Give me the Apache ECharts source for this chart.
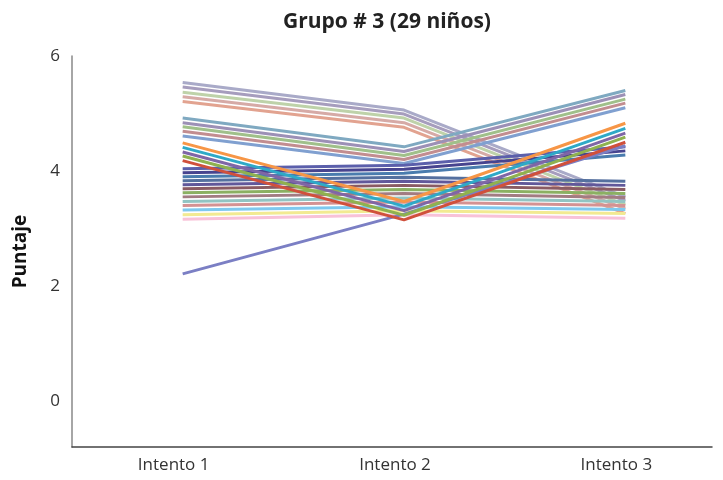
<!DOCTYPE html>
<html>
<head>
<meta charset="utf-8">
<script src="https://cdn.jsdelivr.net/npm/echarts@6/dist/echarts.min.js"></script>
<style>
html,body{margin:0;padding:0;background:#fff;}
#chart{width:723px;height:480px;}
</style>
</head>
<body>
<div id="chart"></div>
<script>
// ---- data ----
const categories = ['Intento 1', 'Intento 2', 'Intento 3'];
const yTickValues = [0, 2, 4, 6];

// top group (fall at Intento 3)
const nino01 = [5.54, 5.06, 3.55];
const nino02 = [5.46, 4.99, 3.48];
const nino03 = [5.37, 4.92, 3.41];
const nino04 = [5.29, 4.84, 3.34];
const nino05 = [5.21, 4.76, 3.26];
// second group (dip at Intento 2, rise at Intento 3)
const nino06 = [4.92, 4.42, 5.40];
const nino07 = [4.84, 4.34, 5.33];
const nino08 = [4.77, 4.27, 5.25];
const nino09 = [4.69, 4.20, 5.18];
const nino10 = [4.61, 4.13, 5.10];
// third group (deep dip at Intento 2)
const nino11 = [4.49, 3.47, 4.83];
const nino12 = [4.41, 3.39, 4.74];
const nino13 = [4.33, 3.31, 4.66];
const nino14 = [4.26, 3.23, 4.59];
const nino15 = [4.18, 3.15, 4.50];
// lower group
const nino16 = [4.04, 4.10, 4.42];
const nino17 = [3.97, 4.03, 4.35];
const nino18 = [3.90, 3.96, 4.28];
const nino19 = [3.83, 3.89, 3.82];
const nino20 = [3.76, 3.82, 3.75];
const nino21 = [3.69, 3.75, 3.68];
const nino22 = [3.62, 3.68, 3.61];
const nino23 = [3.55, 3.61, 3.54];
const nino24 = [3.47, 3.53, 3.47];
const nino25 = [3.40, 3.46, 3.40];
const nino26 = [3.32, 3.38, 3.33];
const nino27 = [3.24, 3.31, 3.26];
const nino28 = [3.16, 3.24, 3.18];
// lowest start
const nino29 = [2.21, 3.25, 4.44];

const allSeries = [nino01, nino02, nino03, nino04, nino05, nino06, nino07, nino08, nino09, nino10,
  nino16, nino17, nino18, nino19, nino20, nino21, nino22, nino23, nino24, nino25, nino26, nino27, nino28,
  nino29, nino11, nino12, nino13, nino14, nino15];

// ---- styles ----
const colors = ['#a9aac8', '#a69dbd', '#bed2a9', '#d6aaa6', '#e2a390',
  '#7fa9c1', '#9c90b6', '#a0c08a', '#c28d90', '#80a0d0',
  '#5b5fab', '#47448f', '#4a7cae', '#55709f', '#61589a', '#8a5b63', '#8bb062', '#a27c82', '#92c4c3', '#d49293', '#7ec8ef', '#f2ea92', '#f8c2d8',
  '#7b7fc4', '#f79646', '#2ea9c7', '#7f66a6', '#8fb14f', '#d0503c'];

const series = allSeries.map((d, i) => ({
  type: 'line',
  data: d,
  xAxisIndex: 0,
  yAxisIndex: 0,
  symbol: 'none',
  silent: true,
  lineStyle: { width: 3, color: colors[i] },
  itemStyle: { color: colors[i] },
  animation: false
}));

const chart = echarts.init(document.getElementById('chart'), null, { renderer: 'canvas' });
chart.setOption({
  animation: false,
  backgroundColor: '#ffffff',
  title: {
    text: 'Grupo # 3 (29 niños)',
    left: 382,
    top: 7,
    textAlign: 'center',
    textStyle: { fontFamily: 'Open Sans', fontWeight: 'bold', fontSize: 21, color: '#222' }
  },
  grid: [
    { left: 72, width: 664, top: 56, bottom: 33, containLabel: false, outerBoundsMode: 'none' },
    { left: 72, width: 640, top: 56, bottom: 33, containLabel: false, outerBoundsMode: 'none' }
  ],
  xAxis: [
    {
      type: 'category',
      gridIndex: 0,
      data: categories,
      boundaryGap: true,
      axisLine: { show: false },
      axisTick: { show: false },
      splitLine: { show: false },
      axisLabel: { fontFamily: 'Open Sans', fontSize: 17, color: '#333', margin: 10, padding: [0, 18, 0, 0] }
    },
    {
      type: 'category',
      gridIndex: 1,
      data: categories,
      axisLine: { show: true, onZero: false, lineStyle: { color: '#444', width: 1.5 } },
      axisTick: { show: false },
      axisLabel: { show: false },
      splitLine: { show: false }
    }
  ],
  yAxis: [
    {
      type: 'value',
      gridIndex: 0,
      min: -0.8,
      max: 6,
      name: 'Puntaje',
      nameLocation: 'middle',
      nameRotate: 90,
      nameGap: 42,
      nameTextStyle: { fontFamily: 'Open Sans', fontWeight: 'bold', fontSize: 19, color: '#111' },
      axisLine: { show: true, onZero: false, lineStyle: { color: '#888', width: 1.5 } },
      axisTick: { show: false },
      splitLine: { show: false },
      axisLabel: {
        customValues: yTickValues,
        fontFamily: 'Open Sans', fontSize: 17, color: '#333', margin: 12
      }
    },
    {
      type: 'value',
      gridIndex: 1,
      min: -0.8,
      max: 6,
      show: false
    }
  ],
  series: series
});
</script>
</body>
</html>
